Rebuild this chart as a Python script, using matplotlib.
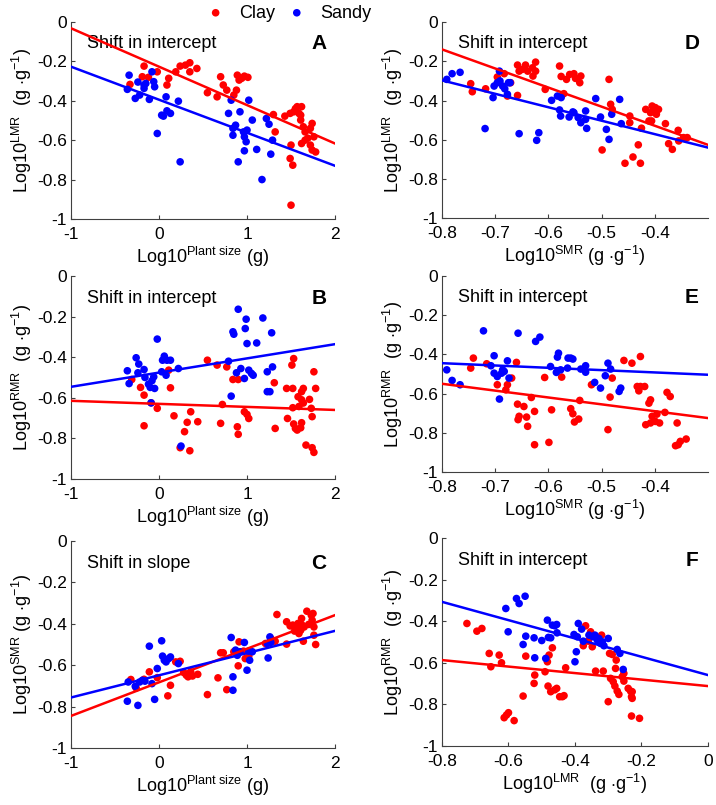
import numpy as np
import matplotlib
matplotlib.use("Agg")
import matplotlib.pyplot as plt

plt.rcParams['font.family'] = ['Liberation Sans', 'DejaVu Sans']
plt.rcParams['mathtext.fontset'] = 'custom'
plt.rcParams['mathtext.rm'] = 'Liberation Sans'
plt.rcParams['mathtext.it'] = 'Liberation Sans:italic'
plt.rcParams['mathtext.bf'] = 'Liberation Sans:bold'
plt.rcParams['axes.unicode_minus'] = False

# ---- panel A: LMR vs plant size
a_clay_x = [-0.33, -0.17, -0.19, -0.12, -0.02, 0.11, 0.09, 0.19, 0.24, 0.30, 0.35, 0.35, 0.43,
            0.55, 0.66, 0.70, 0.73, 0.77, 0.85, 0.88, 0.89, 0.91, 0.94, 0.97, 1.01, 1.30, 1.32,
            1.43, 1.49, 1.53, 1.57, 1.59, 1.55, 1.61, 1.62, 1.64, 1.66, 1.62, 1.66, 1.69, 1.72,
            1.76, 1.74, 1.78, 1.74, 1.72, 1.50, 1.49, 1.52, 1.50, 1.61]
a_clay_y = [-0.317, -0.224, -0.278, -0.281, -0.253, -0.286, -0.32, -0.253, -0.224, -0.219, -0.207,
            -0.253, -0.236, -0.359, -0.38, -0.278, -0.32, -0.346, -0.371, -0.346, -0.27, -0.295,
            -0.286, -0.275, -0.281, -0.47, -0.558, -0.478, -0.464, -0.456, -0.43, -0.464, -0.44,
            -0.473, -0.43, -0.532, -0.558, -0.617, -0.60, -0.59, -0.625, -0.583, -0.65, -0.66,
            -0.515, -0.54, -0.625, -0.693, -0.727, -0.93, -0.498]
a_sandy_x = [-0.36, -0.34, -0.27, -0.24, -0.22, -0.17, -0.17, -0.15, -0.11, -0.08, -0.06, -0.05,
             -0.02, 0.03, 0.05, 0.08, 0.09, 0.13, 0.22, 0.24, 0.79, 0.82, 0.84, 0.84, 0.87, 0.90,
             0.92, 0.96, 0.97, 0.97, 0.99, 1.00, 1.02, 1.06, 1.11, 1.17, 1.22, 1.25, 1.27, 1.29]
a_sandy_y = [-0.342, -0.27, -0.388, -0.305, -0.371, -0.32, -0.337, -0.312, -0.393, -0.253, -0.303,
             -0.329, -0.566, -0.473, -0.478, -0.38, -0.451, -0.464, -0.402, -0.71, -0.464, -0.397,
             -0.54, -0.575, -0.524, -0.71, -0.456, -0.558, -0.583, -0.654, -0.608, -0.549, -0.397,
             -0.498, -0.647, -0.80, -0.49, -0.519, -0.671, -0.60]

# ---- panel B: RMR vs plant size
b_clay_x = [-0.31, -0.21, -0.17, -0.17, -0.09, -0.02, 0.11, 0.13, 0.17, 0.29, 0.32, 0.36, 0.35,
            0.24, 0.44, 0.55, 0.66, 0.70, 0.72, 0.77, 0.84, 0.90, 0.89, 0.90, 0.97, 1.00, 1.02,
            1.32, 1.31, 1.45, 1.46, 1.51, 1.53, 1.52, 1.52, 1.53, 1.55, 1.57, 1.59, 1.58, 1.61,
            1.62, 1.62, 1.62, 1.64, 1.64, 1.67, 1.71, 1.73, 1.74, 1.74, 1.76, 1.76, 1.78]
b_clay_y = [-0.51, -0.549, -0.587, -0.738, -0.625, -0.652, -0.464, -0.551, -0.689, -0.767, -0.721,
            -0.669, -0.861, -0.846, -0.718, -0.415, -0.439, -0.726, -0.633, -0.448, -0.51, -0.51,
            -0.743, -0.78, -0.669, -0.682, -0.702, -0.751, -0.526, -0.554, -0.702, -0.439, -0.407,
            -0.554, -0.649, -0.729, -0.751, -0.759, -0.643, -0.595, -0.748, -0.723, -0.61, -0.57,
            -0.554, -0.626, -0.833, -0.608, -0.652, -0.693, -0.846, -0.869, -0.472, -0.554]
b_sandy_x = [-0.36, -0.34, -0.26, -0.23, -0.24, -0.17, -0.16, -0.12, -0.10, -0.08, -0.06, -0.05,
             -0.09, -0.02, 0.03, 0.04, 0.06, 0.08, 0.09, 0.13, 0.22, 0.25, 0.79, 0.82, 0.84, 0.85,
             0.90, 0.88, 0.93, 0.97, 0.98, 0.99, 1.00, 1.02, 1.05, 1.07, 1.11, 1.18, 1.23, 1.23,
             1.26, 1.28, 1.29]
b_sandy_y = [-0.467, -0.53, -0.403, -0.434, -0.477, -0.461, -0.50, -0.533, -0.549, -0.516, -0.497,
             -0.554, -0.625, -0.311, -0.472, -0.415, -0.395, -0.489, -0.415, -0.415, -0.456, -0.838,
             -0.42, -0.592, -0.275, -0.287, -0.164, -0.477, -0.456, -0.505, -0.259, -0.213, -0.333,
             -0.464, -0.48, -0.489, -0.33, -0.207, -0.472, -0.57, -0.57, -0.28, -0.448]

# ---- panel C: SMR vs plant size
c_clay_x = [-0.32, -0.26, -0.17, -0.11, -0.02, 0.10, 0.13, 0.19, 0.24, 0.28, 0.31, 0.33, 0.36,
            0.38, 0.44, 0.55, 0.67, 0.70, 0.73, 0.77, 0.85, 0.90, 0.91, 0.96, 0.98, 1.02, 1.21,
            1.27, 1.32, 1.34, 1.45, 1.45, 1.49, 1.52, 1.54, 1.56, 1.58, 1.59, 1.61, 1.62, 1.62,
            1.64, 1.65, 1.68, 1.70, 1.73, 1.75, 1.76, 1.76, 1.78, 1.74]
c_clay_y = [-0.669, -0.71, -0.668, -0.632, -0.66, -0.748, -0.697, -0.584, -0.581, -0.635, -0.648,
            -0.656, -0.632, -0.652, -0.644, -0.742, -0.661, -0.54, -0.54, -0.718, -0.535, -0.603,
            -0.487, -0.532, -0.568, -0.556, -0.495, -0.471, -0.484, -0.355, -0.39, -0.498, -0.41,
            -0.406, -0.435, -0.419, -0.398, -0.447, -0.431, -0.403, -0.374, -0.484, -0.415,
            -0.339, -0.403, -0.358, -0.35, -0.415, -0.455, -0.50, -0.382]
c_sandy_x = [-0.36, -0.35, -0.27, -0.24, -0.22, -0.19, -0.16, -0.11, -0.08, -0.05, -0.02, 0.03,
             0.04, 0.06, 0.08, 0.11, 0.13, 0.22, 0.82, 0.84, 0.84, 0.87, 0.89, 0.92, 0.97, 1.00,
             1.02, 1.03, 1.06, 1.23, 1.24, 1.26, 1.27]
c_sandy_y = [-0.774, -0.681, -0.702, -0.794, -0.681, -0.673, -0.677, -0.508, -0.689, -0.765, -0.616,
             -0.482, -0.556, -0.576, -0.584, -0.568, -0.56, -0.592, -0.466, -0.656, -0.721, -0.527,
             -0.552, -0.535, -0.49, -0.624, -0.532, -0.576, -0.535, -0.495, -0.565, -0.463, -0.49]

# ---- panel D: LMR vs SMR
d_clay_x = [-0.746, -0.743, -0.718, -0.696, -0.683, -0.671, -0.677, -0.658, -0.658, -0.655, -0.649,
            -0.643, -0.639, -0.63, -0.629, -0.624, -0.624, -0.606, -0.579, -0.576, -0.571, -0.566,
            -0.56, -0.552, -0.549, -0.541, -0.539, -0.499, -0.486, -0.483, -0.48, -0.456, -0.441,
            -0.447, -0.447, -0.431, -0.427, -0.425, -0.417, -0.411, -0.408, -0.405, -0.402, -0.399,
            -0.397, -0.393, -0.38, -0.374, -0.367, -0.356, -0.355, -0.346, -0.339, -0.406]
d_clay_y = [-0.314, -0.355, -0.34, -0.28, -0.263, -0.309, -0.377, -0.374, -0.219, -0.25, -0.241,
            -0.219, -0.25, -0.233, -0.275, -0.204, -0.25, -0.343, -0.224, -0.277, -0.365, -0.292,
            -0.267, -0.263, -0.287, -0.309, -0.275, -0.652, -0.292, -0.419, -0.445, -0.72, -0.688,
            -0.479, -0.513, -0.626, -0.72, -0.541, -0.445, -0.504, -0.462, -0.428, -0.453, -0.436,
            -0.47, -0.445, -0.518, -0.62, -0.649, -0.552, -0.606, -0.589, -0.589, -0.504]
d_sandy_x = [-0.791, -0.781, -0.766, -0.719, -0.704, -0.702, -0.696, -0.692, -0.691, -0.686, -0.682,
             -0.677, -0.675, -0.672, -0.655, -0.618, -0.622, -0.594, -0.583, -0.579, -0.576, -0.577,
             -0.561, -0.554, -0.552, -0.544, -0.53, -0.53, -0.528, -0.539, -0.511, -0.502, -0.491,
             -0.486, -0.481, -0.466, -0.463]
d_sandy_y = [-0.292, -0.263, -0.256, -0.543, -0.385, -0.326, -0.309, -0.25, -0.30, -0.326, -0.34,
             -0.368, -0.309, -0.309, -0.569, -0.564, -0.603, -0.399, -0.377, -0.448, -0.385, -0.479,
             -0.484, -0.458, -0.462, -0.487, -0.453, -0.496, -0.542, -0.513, -0.39, -0.484, -0.547,
             -0.598, -0.47, -0.394, -0.518]

# ---- panel E: RMR vs SMR
e_clay_x = [-0.746, -0.741, -0.716, -0.696, -0.68, -0.677, -0.669, -0.66, -0.658, -0.657, -0.655,
            -0.646, -0.641, -0.639, -0.632, -0.626, -0.626, -0.607, -0.599, -0.594, -0.575, -0.558,
            -0.554, -0.551, -0.543, -0.541, -0.519, -0.488, -0.484, -0.48, -0.458, -0.443, -0.433,
            -0.43, -0.427, -0.419, -0.417, -0.411, -0.408, -0.408, -0.405, -0.399, -0.396, -0.391,
            -0.381, -0.377, -0.371, -0.358, -0.361, -0.356, -0.352, -0.341, -0.427]
e_clay_y = [-0.47, -0.419, -0.448, -0.555, -0.581, -0.555, -0.521, -0.441, -0.654, -0.733, -0.716,
            -0.666, -0.72, -0.767, -0.62, -0.861, -0.691, -0.518, -0.849, -0.683, -0.516, -0.677,
            -0.703, -0.745, -0.73, -0.635, -0.555, -0.784, -0.618, -0.521, -0.431, -0.445, -0.564,
            -0.586, -0.564, -0.564, -0.759, -0.649, -0.632, -0.75, -0.716, -0.742, -0.705, -0.75,
            -0.696, -0.594, -0.615, -0.75, -0.866, -0.861, -0.844, -0.832, -0.411]
e_sandy_x = [-0.791, -0.781, -0.766, -0.722, -0.702, -0.708, -0.702, -0.696, -0.692, -0.688, -0.686,
             -0.683, -0.677, -0.674, -0.657, -0.624, -0.616, -0.596, -0.585, -0.583, -0.581, -0.577,
             -0.564, -0.563, -0.558, -0.554, -0.539, -0.53, -0.53, -0.513, -0.502, -0.493, -0.488,
             -0.483, -0.467, -0.464]
e_sandy_y = [-0.479, -0.533, -0.555, -0.28, -0.407, -0.458, -0.496, -0.513, -0.628, -0.496, -0.479,
             -0.487, -0.433, -0.521, -0.292, -0.334, -0.312, -0.462, -0.492, -0.414, -0.394, -0.479,
             -0.47, -0.419, -0.419, -0.424, -0.475, -0.458, -0.491, -0.543, -0.572, -0.509, -0.445,
             -0.475, -0.589, -0.572]

# ---- panel F: RMR vs LMR
f_clay_x = [-0.725, -0.695, -0.68, -0.658, -0.653, -0.628, -0.621, -0.613, -0.606, -0.60, -0.583,
            -0.556, -0.548, -0.521, -0.523, -0.49, -0.483, -0.481, -0.478, -0.473, -0.468, -0.461,
            -0.455, -0.446, -0.438, -0.433, -0.428, -0.375, -0.368, -0.36, -0.353, -0.348, -0.343,
            -0.338, -0.32, -0.315, -0.30, -0.296, -0.293, -0.288, -0.285, -0.28, -0.278, -0.276,
            -0.273, -0.268, -0.258, -0.253, -0.253, -0.24, -0.233, -0.23, -0.228, -0.228, -0.23,
            -0.206]
f_clay_y = [-0.411, -0.448, -0.435, -0.555, -0.619, -0.563, -0.60, -0.864, -0.851, -0.84, -0.878,
            -0.76, -0.568, -0.659, -0.699, -0.643, -0.595, -0.712, -0.563, -0.739, -0.528, -0.73,
            -0.723, -0.763, -0.763, -0.758, -0.624, -0.518, -0.422, -0.496, -0.451, -0.523, -0.472,
            -0.64, -0.467, -0.64, -0.787, -0.555, -0.675, -0.56, -0.691, -0.712, -0.627, -0.587,
            -0.736, -0.752, -0.667, -0.688, -0.651, -0.723, -0.736, -0.763, -0.739, -0.771, -0.856,
            -0.867]
f_sandy_x = [-0.608, -0.601, -0.576, -0.568, -0.55, -0.556, -0.548, -0.521, -0.523, -0.50, -0.488,
             -0.483, -0.48, -0.473, -0.468, -0.461, -0.455, -0.454, -0.403, -0.40, -0.396, -0.39,
             -0.393, -0.38, -0.375, -0.358, -0.346, -0.34, -0.333, -0.328, -0.323, -0.318, -0.313,
             -0.30, -0.273, -0.265, -0.255]
f_sandy_y = [-0.339, -0.451, -0.291, -0.315, -0.28, -0.512, -0.472, -0.576, -0.48, -0.493, -0.579,
             -0.395, -0.478, -0.48, -0.419, -0.422, -0.416, -0.456, -0.464, -0.595, -0.547, -0.411,
             -0.475, -0.438, -0.496, -0.467, -0.475, -0.467, -0.491, -0.483, -0.507, -0.499, -0.518,
             -0.483, -0.536, -0.555, -0.632]

# fitted lines, read as (value at left x limit, value at right x limit)
a_lines = {'clay': (-0.032, -0.617), 'sandy': (-0.227, -0.73)}
b_lines = {'clay': (-0.615, -0.66), 'sandy': (-0.546, -0.336)}
c_lines = {'clay': (-0.845, -0.358), 'sandy': (-0.756, -0.434)}
d_lines = {'clay': (-0.139, -0.626), 'sandy': (-0.297, -0.64)}
e_lines = {'clay': (-0.55, -0.725), 'sandy': (-0.445, -0.504)}
f_lines = {'clay': (-0.587, -0.712), 'sandy': (-0.307, -0.659)}

y_ticks = [0, -0.2, -0.4, -0.6, -0.8, -1]
y_ticklabels = ['0', '-0.2', '-0.4', '-0.6', '-0.8', '-1']
size_ticks = [-1, 0, 1, 2]
smr_ticks = [-0.8, -0.7, -0.6, -0.5, -0.4]
lmr_ticks = [-0.8, -0.6, -0.4, -0.2, 0]

xlab_size = r'Log10$^{\mathrm{Plant\ size}}$ (g)'
xlab_smr = r'Log10$^{\mathrm{SMR}}$ (g $\cdot$g$^{-1}$)'
xlab_lmr = r'Log10$^{\mathrm{LMR}}$  (g $\cdot$g$^{-1}$)'
ylab_lmr = r'Log10$^{\mathrm{LMR}}$  (g $\cdot$g$^{-1}$)'
ylab_rmr = r'Log10$^{\mathrm{RMR}}$  (g $\cdot$g$^{-1}$)'
ylab_smr = r'Log10$^{\mathrm{SMR}}$ (g $\cdot$g$^{-1}$)'

RED = '#ff0000'
BLUE = '#0000ff'

panels = [
    # rect, letter, note, xlim, xticks, xlabel, ylabel, clay, sandy, lines
    ([0.0992, 0.728, 0.3687, 0.2447], 'A', 'Shift in intercept', (-1, 2), size_ticks, xlab_size, ylab_lmr,
     (a_clay_x, a_clay_y), (a_sandy_x, a_sandy_y), a_lines),
    ([0.0992, 0.405, 0.3687, 0.2522], 'B', 'Shift in intercept', (-1, 2), size_ticks, xlab_size, ylab_rmr,
     (b_clay_x, b_clay_y), (b_sandy_x, b_sandy_y), b_lines),
    ([0.0992, 0.0708, 0.3687, 0.2571], 'C', 'Shift in slope', (-1, 2), size_ticks, xlab_size, ylab_smr,
     (c_clay_x, c_clay_y), (c_sandy_x, c_sandy_y), c_lines),
    ([0.6173, 0.729, 0.3715, 0.2435], 'D', 'Shift in intercept', (-0.8, -0.3), smr_ticks, xlab_smr, ylab_lmr,
     (d_clay_x, d_clay_y), (d_sandy_x, d_sandy_y), d_lines),
    ([0.6173, 0.4137, 0.3715, 0.2435], 'E', 'Shift in intercept', (-0.8, -0.3), smr_ticks, xlab_smr, ylab_rmr,
     (e_clay_x, e_clay_y), (e_sandy_x, e_sandy_y), e_lines),
    ([0.6173, 0.0733, 0.3715, 0.2584], 'F', 'Shift in intercept', (-0.8, 0), lmr_ticks, xlab_lmr, ylab_rmr,
     (f_clay_x, f_clay_y), (f_sandy_x, f_sandy_y), f_lines),
]

fig = plt.figure(figsize=(7.16, 8.05), dpi=100)
handles = None
for rect, letter, note, xlim, xticks, xlabel, ylabel, clay, sandy, lines in panels:
    ax = fig.add_axes(rect)
    h1 = ax.scatter(clay[0], clay[1], s=30, color=RED, edgecolors='none', zorder=3, label='Clay')
    h2 = ax.scatter(sandy[0], sandy[1], s=30, color=BLUE, edgecolors='none', zorder=3, label='Sandy')
    if handles is None:
        handles = [h1, h2]
    ax.plot(xlim, lines['clay'], color=RED, lw=1.8, zorder=4)
    ax.plot(xlim, lines['sandy'], color=BLUE, lw=1.8, zorder=4)
    ax.set_xlim(*xlim)
    ax.set_ylim(-1, 0)
    ax.set_xticks(xticks)
    ax.set_xticklabels([('%g' % t) for t in xticks])
    ax.set_yticks(y_ticks)
    ax.set_yticklabels(y_ticklabels)
    ax.spines['top'].set_visible(False)
    ax.spines['right'].set_visible(False)
    for side in ('left', 'bottom'):
        ax.spines[side].set_linewidth(0.8)
        ax.spines[side].set_color('#404040')
    ax.tick_params(direction='in', length=3, labelsize=12.5, color='#404040')
    ax.tick_params(axis='x', pad=6)
    ax.tick_params(axis='y', pad=3)
    ax.set_xlabel(xlabel, fontsize=13, labelpad=2)
    ax.set_ylabel(ylabel, fontsize=13, labelpad=2)
    ax.text(0.06, 0.89, note, transform=ax.transAxes, fontsize=13, va='center', ha='left')
    ax.text(0.94, 0.89, letter, transform=ax.transAxes, fontsize=15, fontweight='bold',
            va='center', ha='center')

fig.legend(handles, ['Clay', 'Sandy'], loc='center', bbox_to_anchor=(289 / 716, 1 - 13 / 805),
           ncol=2, frameon=False, fontsize=13, handlelength=1.0, handletextpad=0.8,
           columnspacing=0.7, borderpad=0)

fig.savefig('out.png', dpi=100)
